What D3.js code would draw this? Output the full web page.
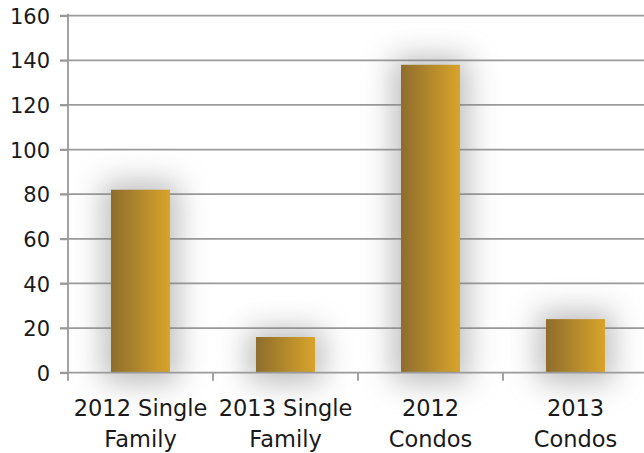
<!DOCTYPE html>
<html>
<head>
<meta charset="utf-8">
<script src="https://cdn.jsdelivr.net/npm/d3@7"></script>
<style>
  html, body { margin: 0; padding: 0; background: #fff; }
  svg { display: block; }
  text { font-family: "DejaVu Sans", sans-serif; fill: #1a1a1a; }
</style>
</head>
<body>
<svg id="chart" width="644" height="453"></svg>
<script>
const categories = ["2012 Single Family", "2013 Single Family", "2012 Condos", "2013 Condos"];
const values = [82, 16, 138, 24];
const yTicks = [0, 20, 40, 60, 80, 100, 120, 140, 160];

const svg = d3.select("#chart");
const W = 644, H = 453;
const plotLeft = 68, plotRight = 648, plotTop = 15.7, plotBottom = 372.7;

const x = d3.scaleBand().domain(categories).range([plotLeft, plotRight])
  .paddingInner(0.593).paddingOuter(0.2965);
const xCat = d3.scaleBand().domain(categories).range([plotLeft, plotRight]).padding(0);
const y = d3.scaleLinear().domain([0, 160]).range([plotBottom, plotTop]);

const defs = svg.append("defs");
const grad = defs.append("linearGradient").attr("id", "barGrad")
  .attr("x1", "0%").attr("x2", "100%").attr("y1", "0%").attr("y2", "0%");
grad.append("stop").attr("offset", "0%").attr("stop-color", "#8e6d2d");
grad.append("stop").attr("offset", "100%").attr("stop-color", "#d8a42a");
const f = defs.append("filter").attr("id", "soft")
  .attr("x", "-200%").attr("y", "-200%").attr("width", "500%").attr("height", "500%");
f.append("feGaussianBlur").attr("stdDeviation", 15);

// gridlines
svg.append("g").selectAll("line").data(yTicks.filter(d => d > 0)).join("line")
  .attr("x1", plotLeft - 8).attr("x2", W)
  .attr("y1", d => y(d)).attr("y2", d => y(d))
  .attr("stroke", "#9a9a9a").attr("stroke-width", 1.8);

// shadows
svg.append("g").selectAll("rect").data(values).join("rect")
  .attr("x", (d, i) => x(categories[i]) - 8)
  .attr("y", d => y(d) - 8)
  .attr("width", x.bandwidth() + 16)
  .attr("height", d => plotBottom - y(d) + 18)
  .attr("fill", "#7a7a7a").attr("opacity", 0.5)
  .attr("filter", "url(#soft)");

// y axis
const yAxis = d3.axisLeft(y).tickValues(yTicks).tickSize(8).tickPadding(10).tickFormat(d3.format("d"));
const gy = svg.append("g").attr("transform", `translate(${plotLeft},0)`).call(yAxis);
gy.select(".domain").remove();
gy.selectAll(".tick line").attr("stroke", "#9a9a9a").attr("stroke-width", 1.8);
gy.selectAll(".tick text").attr("font-size", 21).attr("font-family", "'DejaVu Sans', sans-serif")
  .attr("fill", "#1a1a1a").attr("dy", "0.36em");
svg.append("line").attr("x1", plotLeft).attr("x2", plotLeft).attr("y1", plotTop - 2).attr("y2", plotBottom)
  .attr("stroke", "#9a9a9a").attr("stroke-width", 1.8);

// bars
svg.append("g").selectAll("rect").data(values).join("rect")
  .attr("x", (d, i) => x(categories[i]))
  .attr("y", d => y(d))
  .attr("width", x.bandwidth())
  .attr("height", d => plotBottom - y(d))
  .attr("fill", "url(#barGrad)");

// x axis line and ticks
svg.append("line").attr("x1", plotLeft - 8).attr("x2", W).attr("y1", plotBottom).attr("y2", plotBottom)
  .attr("stroke", "#9a9a9a").attr("stroke-width", 1.8);
svg.append("g").selectAll("line").data(categories).join("line")
  .attr("x1", d => xCat(d)).attr("x2", d => xCat(d))
  .attr("y1", plotBottom).attr("y2", plotBottom + 8)
  .attr("stroke", "#9a9a9a").attr("stroke-width", 1.8);

// category labels
const lab = svg.append("g").selectAll("text").data(categories).join("text")
  .attr("text-anchor", "middle")
  .attr("font-size", 22.5)
  .attr("transform", d => `translate(${x(d) + x.bandwidth() / 2},0)`);
lab.each(function(d) {
  const k = d.lastIndexOf(" ");
  const lines = [d.slice(0, k), d.slice(k + 1)];
  d3.select(this).selectAll("tspan").data(lines).join("tspan")
    .attr("x", 0).attr("y", (l, j) => 416 + j * 31).text(l => l);
});
</script>
</body>
</html>
